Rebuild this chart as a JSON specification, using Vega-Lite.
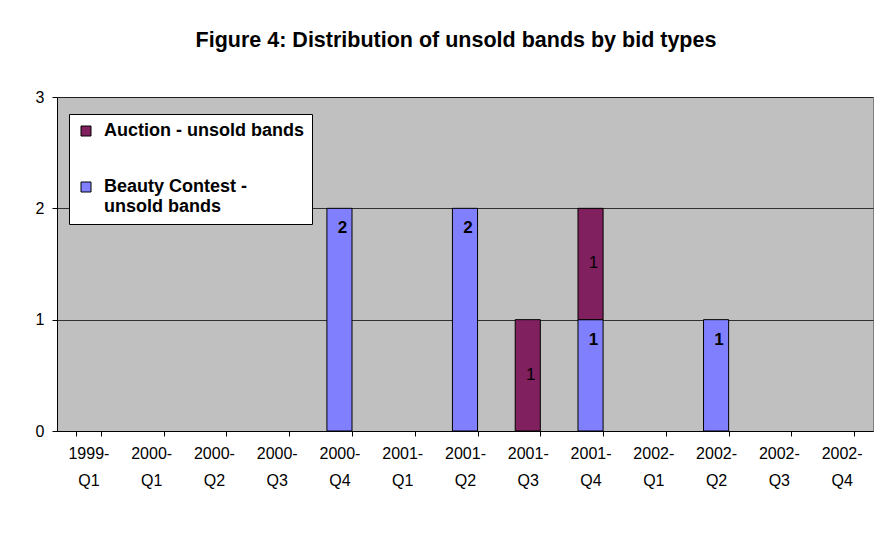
{
  "$schema": "https://vega.github.io/schema/vega-lite/v6.json",
  "width": 816,
  "height": 334,
  "autosize": {"type": "none"},
  "padding": {"left": 57, "top": 97, "right": 15, "bottom": 119},
  "background": "white",
  "title": {
    "text": "Figure 4: Distribution of unsold bands by bid types",
    "font": "Liberation Sans",
    "fontSize": 21.5,
    "fontWeight": "bold",
    "color": "black",
    "anchor": "middle",
    "dx": -9,
    "offset": 38
  },
  "data": {
    "values": [
      {"quarter": "2000-Q4", "type": "Beauty Contest - unsold bands", "value": 2},
      {"quarter": "2001-Q2", "type": "Beauty Contest - unsold bands", "value": 2},
      {"quarter": "2001-Q3", "type": "Auction - unsold bands", "value": 1},
      {"quarter": "2001-Q4", "type": "Beauty Contest - unsold bands", "value": 1},
      {"quarter": "2001-Q4", "type": "Auction - unsold bands", "value": 1},
      {"quarter": "2002-Q2", "type": "Beauty Contest - unsold bands", "value": 1}
    ]
  },
  "encoding": {
    "x": {
      "field": "quarter",
      "type": "nominal",
      "sort": null,
      "scale": {
        "domain": ["1999-Q1", "2000-Q1", "2000-Q2", "2000-Q3", "2000-Q4", "2001-Q1", "2001-Q2", "2001-Q3", "2001-Q4", "2002-Q1", "2002-Q2", "2002-Q3", "2002-Q4"],
        "paddingInner": 0.6,
        "paddingOuter": 0.3
      },
      "axis": {
        "title": null,
        "labelAngle": 0,
        "labelExpr": "datum.label ? [split(datum.label, '-')[0] + '-', split(datum.label, '-')[1]] : ''",
        "labelFont": "Liberation Sans",
        "labelFontSize": 16,
        "labelColor": "black",
        "labelLineHeight": 27,
        "labelPadding": 9,
        "labelBaseline": "top",
        "tickBand": "extent",
        "tickColor": "black",
        "tickSize": 5,
        "domainColor": "black"
      }
    },
    "y": {
      "field": "value",
      "type": "quantitative",
      "stack": "zero",
      "scale": {"domain": [0, 3], "nice": false},
      "axis": {
        "title": null,
        "values": [0, 1, 2, 3],
        "grid": true,
        "gridColor": "black",
        "gridOpacity": 0.75,
        "labelFont": "Liberation Sans",
        "labelFontSize": 16,
        "labelColor": "black",
        "labelPadding": 8,
        "tickSize": 5,
        "tickColor": "black",
        "domainColor": "black"
      }
    },
    "order": {"field": "type", "sort": "descending"}
  },
  "layer": [
    {
      "mark": {"type": "bar", "stroke": "black", "strokeWidth": 1},
      "encoding": {
        "color": {
          "field": "type",
          "type": "nominal",
          "scale": {
            "domain": ["Auction - unsold bands", "Beauty Contest - unsold bands"],
            "range": ["#80205F", "#8080FF"]
          },
          "legend": {
            "title": null,
            "orient": "none",
            "legendX": 12,
            "legendY": 17,
            "direction": "vertical",
            "fillColor": "white",
            "strokeColor": "black",
            "padding": 8,
            "symbolType": "square",
            "symbolSize": 100,
            "symbolStrokeColor": "black",
            "symbolStrokeWidth": 1,
            "symbolOpacity": 1,
            "labelFont": "Liberation Sans",
            "labelFontSize": 18,
            "labelFontWeight": "bold",
            "labelColor": "black",
            "labelLimit": 400,
            "labelOffset": 9,
            "labelLineHeight": 23,
            "rowPadding": 38,
            "labelExpr": "datum.label == 'Beauty Contest - unsold bands' ? ['Beauty Contest -', 'unsold bands'] : datum.label"
          }
        }
      }
    },
    {
      "mark": {"type": "text", "dy": 20, "dx": 3, "font": "Liberation Sans", "fontSize": 17, "fontWeight": "bold", "color": "black"},
      "encoding": {
        "detail": {"field": "type"},
        "text": {"condition": {"test": "datum.type === 'Beauty Contest - unsold bands'", "field": "value"}, "value": ""}
      }
    },
    {
      "mark": {"type": "text", "dy": 55, "dx": 3, "font": "Liberation Sans", "fontSize": 17, "color": "black"},
      "encoding": {
        "detail": {"field": "type"},
        "text": {"condition": {"test": "datum.type === 'Auction - unsold bands'", "field": "value"}, "value": ""}
      }
    }
  ],
  "config": {
    "view": {"fill": "#C0C0C0", "stroke": "#808080"}
  }
}
